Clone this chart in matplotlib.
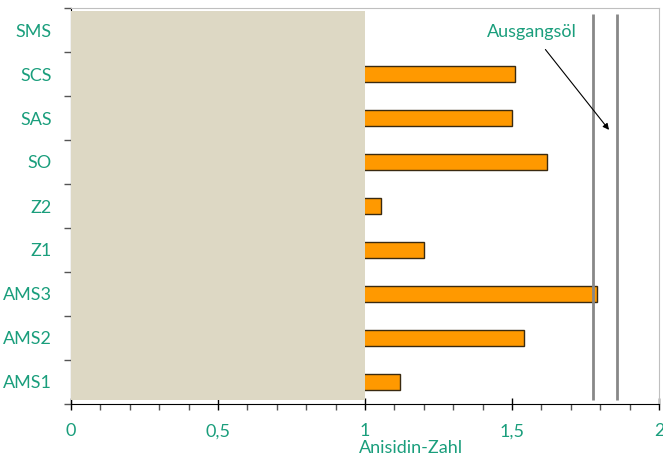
import numpy as np
import matplotlib.pyplot as plt
from matplotlib.ticker import MultipleLocator, FixedLocator
from matplotlib.patches import Rectangle

# data
categories = ["AMS1", "AMS2", "AMS3", "Z1", "Z2", "SO", "SAS", "SCS", "SMS"]
values = [1.12, 1.54, 1.79, 1.20, 1.053, 1.62, 1.50, 1.51, 0.0]
ref_lines = [1.775, 1.857]   # Ausgangsöl
xticks = [0, 0.5, 1, 1.5, 2]
xtick_labels = ["0", "0,5", "1", "1,5", "2"]

teal = "#1A9E7C"
plt.rcParams['font.family'] = ['Lato', 'DejaVu Sans']

fig = plt.figure(figsize=(6.63, 4.62), dpi=100)
ax = fig.add_axes([71 / 663, 58 / 462, 588 / 663, 396 / 462])

y = np.arange(len(categories))
ax.barh(y, values, height=0.38, color="#FF9900", edgecolor="#3a2a10", linewidth=1.0, zorder=2)

# shaded band 0..1
ax.add_patch(Rectangle((0, -0.41), 1, 8.84, facecolor="#DDD8C4", edgecolor="none", zorder=3))

for xv in ref_lines:
    ax.plot([xv, xv], [-0.41, 8.36], color="#888888", lw=2, zorder=4, solid_capstyle="butt")

ax.annotate("Ausgangsöl", xy=(1.83, 5.73), xytext=(1.567, 7.95),
            ha="center", va="center", color=teal, fontsize=13,
            arrowprops=dict(arrowstyle="-|>", color="black", lw=0.8,
                            mutation_scale=9, shrinkA=6, shrinkB=0), zorder=5)

ax.set_xlim(0, 2)
ax.set_ylim(-0.5, 8.5)

# axes styling
for s in ["top", "right"]:
    ax.spines[s].set_color("#BFBFBF")
ax.spines["left"].set_color("black")
ax.spines["bottom"].set_color("black")

ax.xaxis.set_major_locator(FixedLocator(xticks))
ax.set_xticklabels(xtick_labels)
ax.xaxis.set_minor_locator(MultipleLocator(0.1))
ax.tick_params(axis="x", which="major", direction="inout", length=8, width=1,
               labelcolor=teal, labelsize=13, pad=10)
ax.tick_params(axis="x", which="minor", direction="out", length=4, width=1, color="#555555")

ax.yaxis.set_major_locator(FixedLocator(y))
ax.set_yticklabels(categories)
ax.yaxis.set_minor_locator(FixedLocator(np.arange(-0.5, 9, 1)))
ax.tick_params(axis="y", which="major", length=0, labelcolor=teal, labelsize=13, pad=14)
ax.tick_params(axis="y", which="minor", direction="out", length=5, width=1, color="#555555")

ax.set_xlabel("Anisidin-Zahl", color=teal, fontsize=13)
ax.xaxis.set_label_coords((411 - 71) / 588, -0.092)

fig.savefig("out.png", dpi=100)
